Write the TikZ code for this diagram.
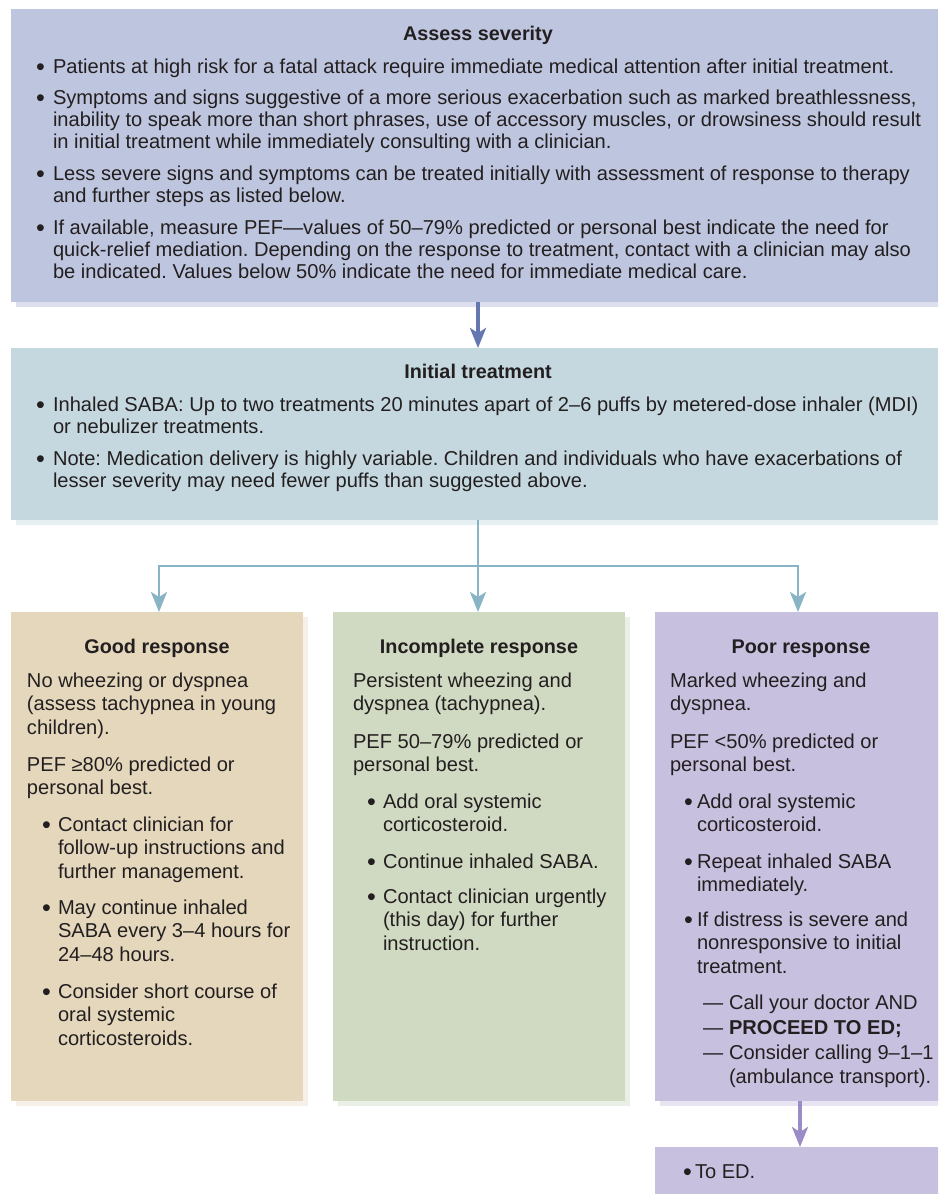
\documentclass[tikz,border=0pt]{standalone}
\usepackage{fontspec}
\setmainfont{Liberation Sans}
\usetikzlibrary{arrows.meta,shadows}
\frenchspacing

\definecolor{ink}{HTML}{231F20}
\definecolor{sevfill}{HTML}{BEC5DE}
\definecolor{sevshade}{HTML}{DCE0EE}
\definecolor{initfill}{HTML}{C5D8E0}
\definecolor{initshade}{HTML}{E6EFF2}
\definecolor{goodfill}{HTML}{E4D7BC}
\definecolor{goodshade}{HTML}{F6F0E8}
\definecolor{incfill}{HTML}{D0D9C1}
\definecolor{incshade}{HTML}{EAF0E5}
\definecolor{poorfill}{HTML}{C8C0DF}
\definecolor{poorshade}{HTML}{E8E4F2}
\definecolor{sevarrow}{HTML}{6577B0}
\definecolor{initarrow}{HTML}{88B4C6}
\definecolor{poorarrow}{HTML}{9B8BC6}

% a block of left-aligned lines whose baseline is that of its first line
\newcommand{\textlines}[1]{\begin{tabular}[t]{@{}l@{}}#1\end{tabular}}
% a slightly larger list bullet, kept at mid x-height
\newcommand{\dotmark}{\raisebox{-2.2pt}{\scalebox{1.25}{•}}}

\begin{document}
\begin{tikzpicture}[x=1pt,y=-1pt,
  panel/.style={anchor=north west, inner sep=0pt, outer sep=0pt},
  txt/.style={anchor=base west, inner sep=0pt, outer sep=0pt, text=ink,
              font=\fontsize{20.1}{22}\selectfont},
  txtlow/.style={txt, font=\fontsize{20.1}{23.6}\selectfont},
  heading/.style={anchor=base, inner sep=0pt, text=ink,
                  font=\fontsize{19.8}{22}\selectfont\bfseries},
  tip/.style={-{Stealth[length=20pt,width=16pt,inset=5pt]}},
]
\useasboundingbox (0,0) rectangle (938,1194);
\clip (0,0) rectangle (938,1194);
\fill[white] (0,0) rectangle (938,1194);

% ---------- panels ----------
\node[panel, fill=sevfill, minimum width=927pt, minimum height=293pt,
      general shadow={fill=sevshade, shadow xshift=5pt, shadow yshift=-5pt}]
      (severity) at (11,9) {};
\node[panel, fill=initfill, minimum width=927pt, minimum height=172pt,
      general shadow={fill=initshade, shadow xshift=5pt, shadow yshift=-5pt}]
      (initial) at (11,348) {};
\node[panel, fill=goodfill, minimum width=292pt, minimum height=489pt,
      general shadow={fill=goodshade, shadow xshift=5pt, shadow yshift=-5pt}]
      (good) at (11,612) {};
\node[panel, fill=incfill, minimum width=292pt, minimum height=489pt,
      general shadow={fill=incshade, shadow xshift=5pt, shadow yshift=-5pt}]
      (incomplete) at (333,612) {};
\node[panel, fill=poorfill, minimum width=290pt, minimum height=489pt,
      general shadow={fill=poorshade, shadow xshift=5pt, shadow yshift=-5pt}]
      (poor) at (655,612) {};
\node[panel, fill=poorfill, minimum width=290pt, minimum height=60pt]
      (toed) at (655,1147) {};

% ---------- connectors ----------
\coordinate (stem) at (478,0);
\draw[sevarrow, line width=3.2pt, tip] (severity.south -| stem) -- (initial.north -| stem);

\coordinate (split) at (478,566);
\coordinate (goodin) at (159,612);
\coordinate (poorin) at (798,612);
\draw[initarrow, line width=2.8pt] (initial.south -| split) -- (split);
\draw[initarrow, line width=2.8pt, tip] (split) -| (goodin);
\draw[initarrow, line width=2.8pt, tip] (split) -- (split |- incomplete.north);
\draw[initarrow, line width=2.8pt, tip] (split) -| (poorin);

\coordinate (edstem) at (800,0);
\draw[poorarrow, line width=3.2pt, tip] (poor.south -| edstem) -- (toed.north -| edstem);

% ---------- Assess severity ----------
\node[heading] (sevtitle) at (478,40) {Assess severity};
\node[txt] (sevdot1) at (36,73) {\dotmark};
\node[txt] (sevtext1) at (53,73) {Patients at high risk for a fatal attack require immediate medical attention after initial treatment.};
\node[txt] (sevdot2) at (36,104) {\dotmark};
\node[txt] (sevtext2) at (53,104) {\textlines{Symptoms and signs suggestive of a more serious exacerbation such as marked breathlessness,\\
inability to speak more than short phrases, use of accessory muscles, or drowsiness should result\\
in initial treatment while immediately consulting with a clinician.}};
\node[txt] (sevdot3) at (36,180) {\dotmark};
\node[txt] (sevtext3) at (53,180) {\textlines{Less severe signs and symptoms can be treated initially with assessment of response to therapy\\
and further steps as listed below.}};
\node[txt] (sevdot4) at (36,234) {\dotmark};
\node[txt] (sevtext4) at (53,234) {\textlines{If available, measure PEF—values of 50–79\% predicted or personal best indicate the need for\\
quick-relief mediation. Depending on the response to treatment, contact with a clinician may also\\
be indicated. Values below 50\% indicate the need for immediate medical care.}};

% ---------- Initial treatment ----------
\node[heading] (inittitle) at (478,378) {Initial treatment};
\node[txt] (initdot1) at (36,411) {\dotmark};
\node[txt] (inittext1) at (53,411) {\textlines{Inhaled SABA: Up to two treatments 20 minutes apart of 2–6 puffs by metered-dose inhaler (MDI)\\
or nebulizer treatments.}};
\node[txt] (initdot2) at (36,465) {\dotmark};
\node[txt] (inittext2) at (53,465) {\textlines{Note: Medication delivery is highly variable. Children and individuals who have exacerbations of\\
lesser severity may need fewer puffs than suggested above.}};

% ---------- Good response ----------
\node[heading] (goodtitle) at (157,653) {Good response};
\node[txtlow] (goodsign) at (27,687) {\textlines{No wheezing or dyspnea\\(assess tachypnea in young\\children).}};
\node[txtlow] (goodpef) at (27,771) {\textlines{PEF ≥80\% predicted or\\personal best.}};
\node[txtlow] (gooddot1) at (42,831) {\dotmark};
\node[txtlow] (goodstep1) at (58,831) {\textlines{Contact clinician for\\follow-up instructions and\\further management.}};
\node[txtlow] (gooddot2) at (42,914) {\dotmark};
\node[txtlow] (goodstep2) at (58,914) {\textlines{May continue inhaled\\SABA every 3–4 hours for\\24–48 hours.}};
\node[txtlow] (gooddot3) at (42,998) {\dotmark};
\node[txtlow] (goodstep3) at (58,998) {\textlines{Consider short course of\\oral systemic\\corticosteroids.}};

% ---------- Incomplete response ----------
\node[heading] (inctitle) at (479,653) {Incomplete response};
\node[txtlow] (incsign) at (353,687) {\textlines{Persistent wheezing and\\dyspnea (tachypnea).}};
\node[txtlow] (incpef) at (353,748) {\textlines{PEF 50–79\% predicted or\\personal best.}};
\node[txtlow] (incdot1) at (367,808) {\dotmark};
\node[txtlow] (incstep1) at (383,808) {\textlines{Add oral systemic\\corticosteroid.}};
\node[txtlow] (incdot2) at (367,868) {\dotmark};
\node[txtlow] (incstep2) at (383,868) {Continue inhaled SABA.};
\node[txtlow] (incdot3) at (367,903) {\dotmark};
\node[txtlow] (incstep3) at (383,903) {\textlines{Contact clinician urgently\\(this day) for further\\instruction.}};

% ---------- Poor response ----------
\node[heading] (poortitle) at (801,653) {Poor response};
\node[txtlow] (poorsign) at (670,687) {\textlines{Marked wheezing and\\dyspnea.}};
\node[txtlow] (poorpef) at (670,748) {\textlines{PEF <50\% predicted or\\personal best.}};
\node[txtlow] (poordot1) at (684,808) {\dotmark};
\node[txtlow] (poorstep1) at (697,808) {\textlines{Add oral systemic\\corticosteroid.}};
\node[txtlow] (poordot2) at (684,868) {\dotmark};
\node[txtlow] (poorstep2) at (697,868) {\textlines{Repeat inhaled SABA\\immediately.}};
\node[txtlow] (poordot3) at (684,926) {\dotmark};
\node[txtlow] (poorstep3) at (697,926) {\textlines{If distress is severe and\\nonresponsive to initial\\treatment.}};
\node[txtlow] (poordash1) at (703,1009) {—};
\node[txtlow] (poorsub1) at (729,1009) {Call your doctor AND};
\node[txtlow] (poordash2) at (703,1034) {—};
\node[txtlow] (poorsub2) at (729,1034) {\textbf{PROCEED TO ED;}};
\node[txtlow] (poordash3) at (703,1059) {—};
\node[txtlow] (poorsub3) at (729,1059) {Consider calling 9–1–1};
\node[txtlow] (poorsub4) at (729,1083) {(ambulance transport).};

% ---------- To ED ----------
\node[txtlow] (toeddot) at (683,1178) {\dotmark};
\node[txtlow] (toedtext) at (695,1178) {To ED.};
\end{tikzpicture}
\end{document}
